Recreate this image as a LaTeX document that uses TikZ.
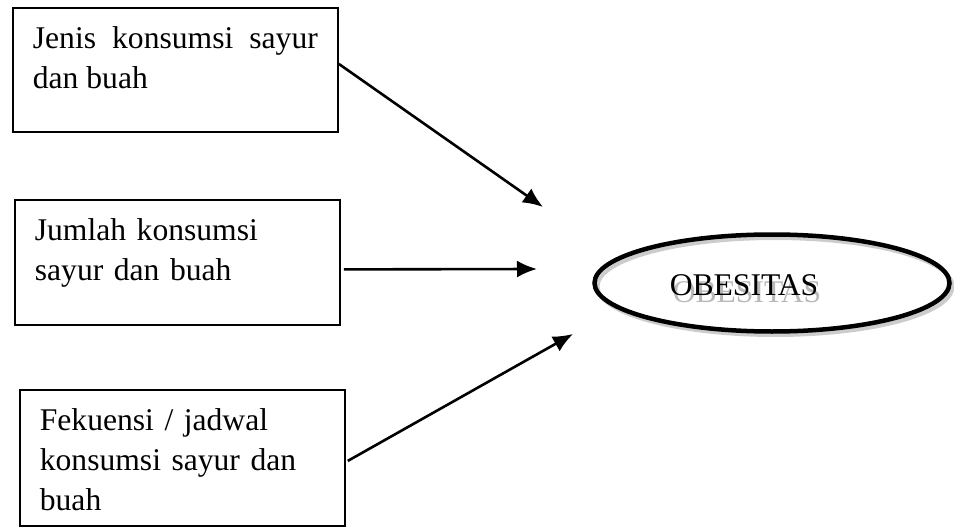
\documentclass[tikz,border=0pt]{standalone}
\usepackage{fontspec}
\setmainfont{Liberation Serif}
\usetikzlibrary{arrows.meta,shapes.geometric}

\begin{document}
\begin{tikzpicture}[x=1pt, y=-1pt,
        kotak/.style={draw, line width=1.8pt, anchor=north west, inner xsep=20pt, inner ysep=0pt,
            text width=285pt, text height=41pt, align=left, font=\fontsize{31.6}{40}\selectfont},
        panah/.style={-{Latex[length=20pt, width=17pt]}, line width=2.6pt},
        lonjong/.style={ellipse, draw, line width=4.5pt, inner sep=0pt, minimum width=355pt, minimum height=97pt},
        judul/.style={anchor=base, inner sep=0pt, font=\fontsize{31.6}{40}\selectfont}]
        \newcommand{\lonjongrx}{177.5}
        \newcommand{\lonjongry}{48.5}

        \useasboundingbox (0, 0) rectangle (954, 527);

        \node (jenis) [kotak, align=justify, text depth=83pt] at (12, 7) {Jenis konsumsi sayur dan buah};
        \node (jumlah) [kotak, text depth=84pt] at (14, 199) {Jumlah konsumsi sayur dan buah};
        \node (frekuensi) [kotak, text depth=95pt] at (19, 389) {Fekuensi / jadwal konsumsi sayur dan buah};

        \coordinate (pusat) at (772, 283);
        \draw [gray!40, line width=4pt] ([shift={(3, 3.5)}]pusat) ellipse [x radius=\lonjongrx, y radius=\lonjongry];
        \node (obesitas) [lonjong] at (pusat) {};

        \node (bayang) [judul, text=gray!55] at (747, 302) {OBESITAS};
        \node (teks) [judul] at (744, 295) {OBESITAS};

        \coordinate (ujung1) at (543, 207);
        \coordinate (ujung2) at (537, 269);
        \coordinate (ujung3) at (573, 334);

        \draw [panah] ([yshift=6pt]jenis.east) -- (ujung1);
        \draw [panah] ([xshift=3pt, yshift=-7pt]jumlah.east) -- (ujung2);
        \draw [panah] ([xshift=2pt, yshift=-3pt]frekuensi.east) -- (ujung3);

    \end{tikzpicture}
\end{document}
